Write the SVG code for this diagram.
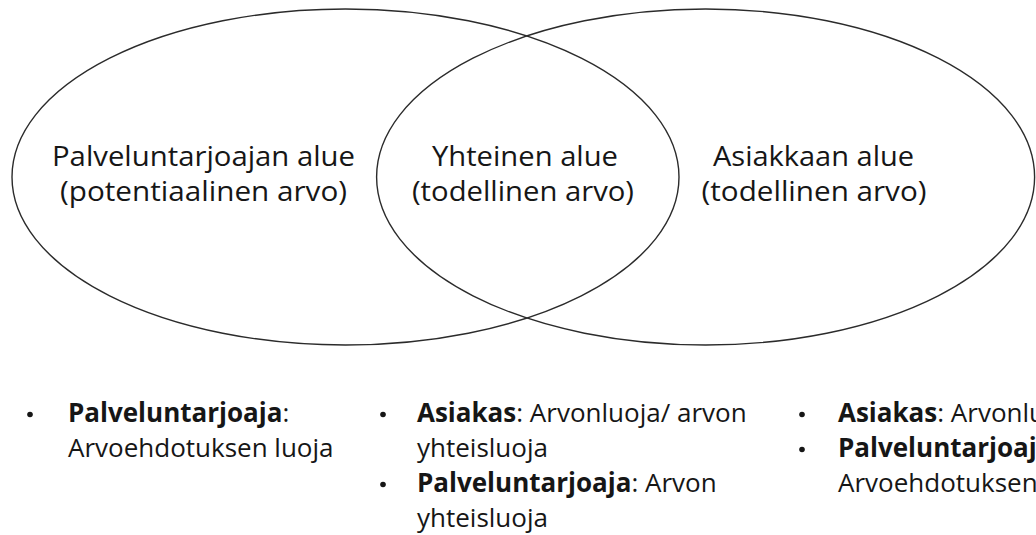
<svg xmlns="http://www.w3.org/2000/svg" width="1036" height="535" viewBox="0 0 1036 535">
<style>
.bg{fill:#ffffff}
.ell{fill:none;stroke:#2b2b2b;stroke-width:1.4}
.lbl{font-family:"Open Sans","Liberation Sans",sans-serif;font-size:26.5px;fill:#161616;text-anchor:middle}
.lst{font-family:"Open Sans","Liberation Sans",sans-serif;font-size:26px;fill:#161616}
.b{font-weight:bold}
.dot{fill:#161616}
</style>
<rect class="bg" x="0" y="0" width="1036" height="535"/>
<g id="left-circle">
<ellipse class="ell" cx="345.5" cy="177" rx="333.5" ry="168"/>
<text class="lbl" x="203.5" y="166" textLength="303" lengthAdjust="spacingAndGlyphs">Palveluntarjoajan alue</text>
<text class="lbl" x="203.5" y="201" textLength="287" lengthAdjust="spacingAndGlyphs">(potentiaalinen arvo)</text>
</g>
<g id="right-circle">
<ellipse class="ell" cx="705.6" cy="177" rx="329" ry="168"/>
<text class="lbl" x="813.5" y="166" textLength="201" lengthAdjust="spacingAndGlyphs">Asiakkaan alue</text>
<text class="lbl" x="814" y="201" textLength="225" lengthAdjust="spacingAndGlyphs">(todellinen arvo)</text>
</g>
<g id="overlap">
<text class="lbl" x="525" y="166" textLength="186" lengthAdjust="spacingAndGlyphs">Yhteinen alue</text>
<text class="lbl" x="523" y="201" textLength="222" lengthAdjust="spacingAndGlyphs">(todellinen arvo)</text>
</g>
<g id="list-left">
<circle class="dot" cx="30" cy="414.5" r="2.8"/>
<text class="lst" x="68" y="422"><tspan class="b">Palveluntarjoaja</tspan>:</text>
<text class="lst" x="68" y="457">Arvoehdotuksen luoja</text>
</g>
<g id="list-middle">
<circle class="dot" cx="383" cy="414.5" r="2.8"/>
<text class="lst" x="417" y="422"><tspan class="b">Asiakas</tspan>: Arvonluoja/ arvon</text>
<text class="lst" x="417" y="457">yhteisluoja</text>
<circle class="dot" cx="383" cy="484.5" r="2.8"/>
<text class="lst" x="417" y="492"><tspan class="b">Palveluntarjoaja</tspan>: Arvon</text>
<text class="lst" x="417" y="527">yhteisluoja</text>
</g>
<g id="list-right">
<circle class="dot" cx="802" cy="414.5" r="2.8"/>
<text class="lst" x="838" y="422"><tspan class="b">Asiakas</tspan>: Arvonluoja</text>
<circle class="dot" cx="802" cy="449.5" r="2.8"/>
<text class="lst" x="838" y="457"><tspan class="b">Palveluntarjoaja</tspan>:</text>
<text class="lst" x="838" y="492">Arvoehdotuksen luoja</text>
</g>
</svg>
